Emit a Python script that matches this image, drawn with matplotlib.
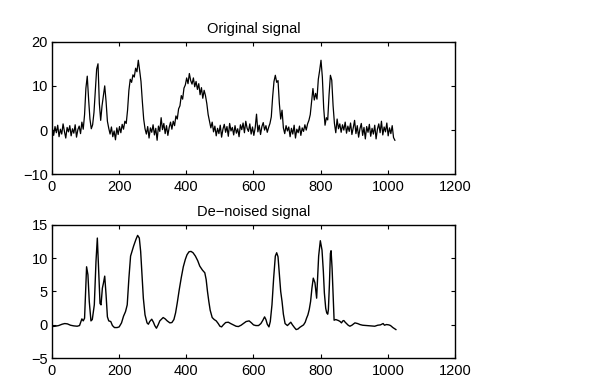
import matplotlib.pyplot as plt
import numpy as np

plt.rcParams['font.family'] = ['Liberation Sans', 'DejaVu Sans']

# noisy signal, read every 4th sample (index 1, 5, ..., 1021)
noisy_y = [
    0.5, -1.2, 0.8, -0.6, 1.1, -1.5, 0.2, -0.9, 1.4, -0.3, -1.8, 0.6, -0.4, 1.0, -1.3, 0.3,
    -0.7, 1.2, -1.6, 0.1, 0.9, -0.8, 1.8, 0.2, 3.5, 9.5, 12.2, 7.0, 2.5, 0.3, 1.2, 4.0,
    9.0, 13.8, 15.0, 6.0, 2.2, 5.5, 7.8, 10.0, 6.5, 2.0, 0.4, -0.9, 0.7, -1.5, -0.2, -2.2,
    0.5, -1.0, 0.8, -0.6, 1.3, 0.2, 2.0, 1.5, 4.5, 9.0, 11.5, 10.8, 12.5, 12.0, 14.0, 13.2,
    15.8, 13.5, 11.0, 6.5, 2.5, 0.3, -0.9, 0.8, -1.8, 0.5, -0.5, 1.2, -1.1, 0.4, -2.3, 0.9,
    -0.3, 2.8, 0.1, 1.5, -0.8, 1.0, -1.2, 0.6, 1.8, 0.2, 2.0, 1.0, 3.2, 2.5, 4.8, 5.5,
    7.8, 7.0, 9.5, 10.2, 11.8, 10.5, 12.8, 11.2, 10.4, 11.8, 9.8, 11.0, 9.2, 10.5, 8.0, 9.6,
    7.2, 9.0, 7.8, 6.0, 3.5, 2.0, 0.5, 1.8, -0.4, 0.9, -1.3, 0.4, -0.8, 1.1, -1.6, 0.2,
    1.3, -0.5, 0.8, -1.4, 1.5, -0.2, 0.6, -1.1, 1.0, -0.7, 0.3, -1.5, 1.2, 0.1, 1.6, -0.6,
    2.0, 0.4, -0.3, 1.4, -0.9, 0.7, -1.2, 0.5, 3.6, -0.4, 1.1, -1.0, 0.8, 1.7, 0.0, 1.0,
    -0.5, 0.6, 1.5, 3.0, 7.5, 11.0, 12.4, 10.8, 11.2, 6.0, 2.5, 4.5, 0.5, -0.8, 1.0, -0.2,
    0.7, -1.5, 0.4, -0.9, 1.1, -1.8, 0.2, -0.6, 0.9, -1.2, 0.5, -0.3, 1.2, 0.0, 1.4, 2.2,
    3.5, 6.5, 9.4, 6.8, 8.3, 7.0, 11.5, 13.5, 15.8, 12.0, 5.0, 1.1, 2.8, 2.3, 8.0, 12.4,
    11.3, 5.5, 1.5, -0.6, 2.5, 0.3, 1.4, -0.5, 1.2, 0.0, 1.8, -0.7, 0.9, -0.3, 1.6, -1.0,
    0.5, 2.2, -0.8, 1.0, -1.6, 0.3, 1.5, -1.2, 0.6, -2.0, 0.8, -0.5, 1.3, -1.4, 0.4, -0.9,
    1.1, -2.0, 0.2, 1.4, -0.6, 2.0, -1.1, 0.7, -0.4, 1.6, -1.3, 0.5, -0.8, 1.0, -1.7, -2.3,
]
noisy_x = np.arange(1, 1025, 4)

# de-noised signal, read at its turning points
clean_x = [0, 10, 20, 30, 38, 46, 55, 65, 75, 82, 86, 89, 93, 97, 100, 103, 107, 111, 116, 120,
           126, 131, 135, 139, 143, 146, 150, 153, 157, 161, 165, 169, 175, 180, 186, 194, 200,
           207, 213, 219, 224, 229, 234, 243, 250, 255, 260, 264, 268, 272, 277, 283, 287, 291,
           297, 302, 306, 311, 316, 321, 331, 337, 343, 351, 357, 363, 368, 373, 379, 385, 391,
           397, 402, 408, 414, 420, 427, 434, 440, 448, 455, 459, 463, 467, 471, 477, 483, 489,
           495, 500, 505, 510, 517, 525, 532, 540, 548, 555, 563, 570, 578, 587, 594, 600, 607,
           615, 622, 628, 633, 637, 641, 646, 650, 655, 660, 665, 669, 673, 677, 681, 685, 689,
           694, 701, 707, 711, 716, 722, 727, 733, 737, 743, 749, 754, 758, 762, 766, 770, 774,
           778, 783, 788, 791, 794, 799, 804, 808, 811, 815, 818, 821, 823, 826, 829, 831, 834,
           836, 840, 845, 853, 858, 862, 866, 869, 873, 877, 882, 887, 893, 902, 910, 917, 925,
           937, 950, 961, 970, 978, 986, 990, 996, 1003, 1008, 1015, 1024]
clean_y = [-0.25, -0.2, -0.1, 0.1, 0.2, 0.15, -0.05, -0.15, -0.2, -0.1, 0.5, 0.9, 0.6, 1.0, 5.0,
           8.7, 7.5, 3.5, 0.6, 0.8, 3.0, 9.5, 13.0, 8.0, 3.2, 3.0, 5.5, 6.2, 7.3, 4.5, 1.2, 0.6,
           0.5, -0.1, -0.4, -0.4, -0.3, 0.3, 1.3, 2.0, 3.0, 7.0, 10.3, 11.8, 12.8, 13.4, 13.0,
           11.0, 7.5, 4.0, 1.5, 0.3, 0.1, 0.5, 0.85, 0.4, -0.1, -0.5, 0.0, 0.6, 1.1, 0.9, 0.6,
           0.3, 0.35, 0.8, 1.8, 3.3, 5.3, 7.1, 8.7, 9.8, 10.5, 10.95, 11.0, 10.8, 10.3, 9.6, 8.8,
           8.2, 7.8, 6.8, 5.0, 3.5, 2.2, 1.1, 0.8, 0.6, 0.2, -0.2, -0.3, 0.0, 0.35, 0.4, 0.2,
           0.0, -0.2, -0.25, -0.05, 0.2, 0.5, 0.6, 0.3, 0.0, -0.1, -0.1, 0.2, 0.7, 1.2, 0.8, 0.1,
           -0.3, 0.5, 3.0, 7.0, 10.3, 10.8, 10.2, 7.5, 5.0, 3.5, 1.6, 0.2, -0.1, 0.2, 0.4, 0.0,
           -0.4, -0.7, -0.6, -0.4, -0.2, 0.0, 0.4, 1.0, 1.5, 2.3, 3.5, 5.5, 7.0, 6.3, 4.0, 7.0,
           10.3, 12.6, 11.2, 8.0, 4.8, 2.5, 1.8, 1.6, 2.3, 6.0, 10.7, 11.1, 8.5, 5.8, 0.7, 0.8,
           0.65, 0.5, 0.3, 0.6, 0.65, 0.4, 0.2, -0.05, -0.2, -0.05, 0.3, 0.2, 0.05, -0.05, -0.1,
           -0.15, -0.2, -0.05, 0.0, 0.2, -0.05, 0.05, 0.0, -0.1, -0.4, -0.7]

titles = ['Original signal', 'De\u2212noised signal']
x_ticks = [0, 200, 400, 600, 800, 1000, 1200]
top_yticks = [-10, 0, 10, 20]
bot_yticks = [-5, 0, 5, 10, 15]

fig = plt.figure(figsize=(5.99, 3.86), dpi=100)
ax1 = fig.add_axes([0.0868, 0.5485, 0.6728, 0.3435])
ax2 = fig.add_axes([0.0868, 0.0718, 0.6728, 0.3461])

ax1.plot(noisy_x, noisy_y, color='black', lw=0.9)
ax1.set_ylim(-10, 20)
ax1.set_yticks(top_yticks)

ax2.plot(clean_x, clean_y, color='black', lw=1.0)
ax2.set_ylim(-5, 15)
ax2.set_yticks(bot_yticks)

for ax, t in zip([ax1, ax2], titles):
    ax.set_xlim(0, 1200)
    ax.set_xticks(x_ticks)
    ax.set_title(t, fontsize=10.5, pad=6)
    ax.tick_params(direction='in', length=3, width=0.8, labelsize=10.5,
                   top=True, right=True)
    ax.tick_params(axis='x', pad=4)
    ax.tick_params(axis='y', pad=3)
    for s in ax.spines.values():
        s.set_linewidth(1.0)

plt.savefig('out.png', dpi=100)
